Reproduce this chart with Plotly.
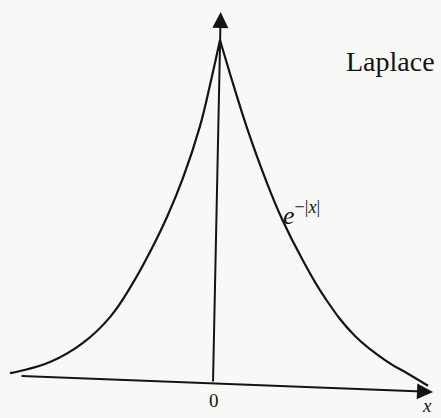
import plotly.graph_objects as go

# Sketched Laplace density e^{-|x|}: points sampled along each flank of the cusp
left_x = [0.0, -0.125, -0.25, -0.4625, -0.6625, -0.875, -1.0875, -1.375, -1.7125, -2.125, -2.5, -2.625]
left_y = [1.0, 0.869, 0.749, 0.598, 0.484, 0.382, 0.292, 0.192, 0.117, 0.061, 0.035, 0.029]
right_x = [0.0, 0.1875, 0.35, 0.5625, 0.775, 1.025, 1.3125, 1.6875, 2.1, 2.35, 2.6]
right_y = [1.0, 0.854, 0.735, 0.598, 0.478, 0.362, 0.248, 0.137, 0.061, 0.027, -0.008]

# Axis arrows (tail -> head), as hand-drawn
y_axis_x = [-0.0875, 0.00875]
y_axis_y = [0.0, 1.0816]
x_axis_x = [-2.5, 2.6625]
x_axis_y = [0.0204, -0.0262]

title_text = "Laplace"
curve_label = "<i>e</i><sup>−|<i>x</i>|</sup>"
origin_label = "0"
x_label = "<i>x</i>"

ink = "#141414"
serif = "Liberation Serif, Times New Roman, serif"

fig = go.Figure()
for xs, ys in ((left_x, left_y), (right_x, right_y)):
    fig.add_trace(go.Scatter(
        x=xs, y=ys, mode="lines",
        line=dict(color=ink, width=2.2, shape="spline", smoothing=1.2),
        hoverinfo="skip", showlegend=False,
    ))

# Axes as arrows with filled heads
for xs, ys in ((y_axis_x, y_axis_y), (x_axis_x, x_axis_y)):
    fig.add_annotation(
        x=xs[1], y=ys[1], ax=xs[0], ay=ys[0],
        xref="x", yref="y", axref="x", ayref="y",
        showarrow=True, arrowhead=2, arrowsize=1.6, arrowwidth=2,
        arrowcolor=ink, standoff=0, text="",
    )

fig.add_annotation(x=2.125, y=0.936, text=title_text, showarrow=False,
                   font=dict(family=serif, size=28, color=ink),
                   xanchor="center", yanchor="middle")
fig.add_annotation(x=1.0125, y=0.4956, text=curve_label, showarrow=False,
                   font=dict(family=serif, size=26, color=ink),
                   xanchor="center", yanchor="middle")
fig.add_annotation(x=-0.08125, y=-0.0496, text=origin_label, showarrow=False,
                   font=dict(family=serif, size=19, color=ink),
                   xanchor="center", yanchor="middle")
fig.add_annotation(x=2.5875, y=-0.066, text=x_label, showarrow=False,
                   font=dict(family=serif, size=19, color=ink),
                   xanchor="center", yanchor="middle")

fig.update_xaxes(range=[-2.75, 2.7625], visible=False, fixedrange=True)
fig.update_yaxes(range=[-0.10204, 1.11662], visible=False, fixedrange=True)
fig.update_layout(
    width=441, height=418,
    margin=dict(l=0, r=0, t=0, b=0),
    paper_bgcolor="#f8f8f6", plot_bgcolor="#f8f8f6",
)

fig.write_html("out.html")
